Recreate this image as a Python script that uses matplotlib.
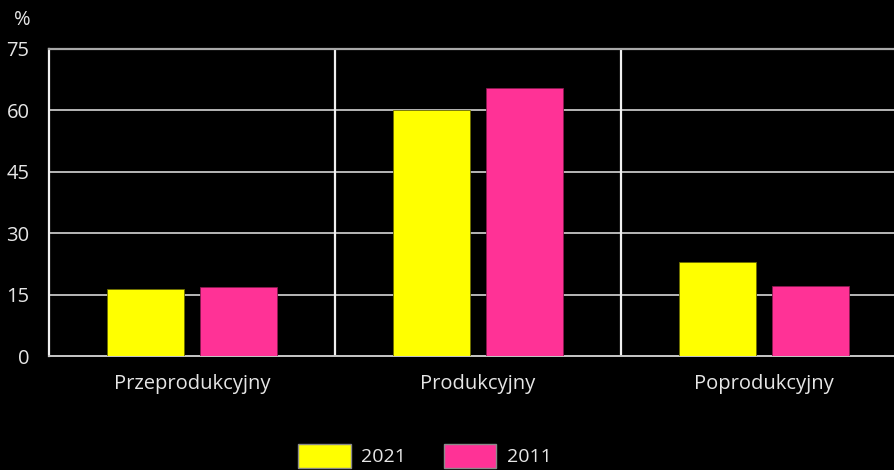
import numpy as np
import matplotlib
matplotlib.use("Agg")
import matplotlib.pyplot as plt

# --- data ---
categories = ["Przeprodukcyjny", "Produkcyjny", "Poprodukcyjny"]
values_2021 = [16.4, 60.1, 23.0]
values_2011 = [16.9, 65.5, 17.1]
series_labels = ["2021", "2011"]
y_ticks = [0, 15, 30, 45, 60, 75]

plt.rcParams['font.family'] = ['Open Sans', 'DejaVu Sans']

fig = plt.figure(figsize=(8.94, 4.70), dpi=100, facecolor='black')
ax = fig.add_axes([49 / 894, 114 / 470, 858 / 894, 307 / 470])
ax.set_facecolor('black')

x = np.arange(len(categories))
w = 0.269
off = 0.162
b1 = ax.bar(x - off, values_2021, w, color='#FFFF00', edgecolor='#6b6b00', linewidth=0.6,
            label=series_labels[0], zorder=3)
b2 = ax.bar(x + off, values_2011, w, color='#FF3296', edgecolor='#8a1a50', linewidth=0.6,
            label=series_labels[1], zorder=3)

ax.set_xlim(-0.5, len(categories) - 0.5)
ax.set_ylim(0, 75)
ax.set_yticks(y_ticks)
ax.set_yticklabels([str(t) for t in y_ticks])
ax.set_xticks(x)
ax.set_xticklabels(categories)

# grid and dividers
for t in y_ticks[1:-1]:
    ax.axhline(t, color='#e8e8e8', linewidth=1.1, zorder=1)
for d in x[:-1] + 0.5:
    ax.axvline(d, color='#f0f0f0', linewidth=1.6, zorder=1)

ax.spines['right'].set_visible(False)
ax.spines['top'].set_color('#a8a8a8')
ax.spines['top'].set_linewidth(1.6)
ax.spines['left'].set_color('#f0f0f0')
ax.spines['left'].set_linewidth(1.6)
ax.spines['bottom'].set_color('#c8c8c8')
ax.spines['bottom'].set_linewidth(1.4)

ax.tick_params(axis='y', length=0, pad=14, labelsize=14.5, labelcolor='#e6e6e6')
ax.tick_params(axis='x', length=0, pad=13, labelsize=14.5, labelcolor='#e6e6e6')

fig.text(22 / 894, 1 - 20 / 470, "%", color='#e6e6e6', fontsize=14.5, ha='center', va='center')

leg = fig.legend(handles=[b1, b2], labels=series_labels, loc='upper left',
                 bbox_to_anchor=(298 / 894, 1 - 444 / 470), ncol=2, frameon=False,
                 borderpad=0, borderaxespad=0, handlelength=2.7, handleheight=1.5,
                 handletextpad=0.55, columnspacing=1.95, fontsize=14, labelcolor='#e6e6e6')
for h in leg.legend_handles:
    h.set_edgecolor('#8a8a8a')
    h.set_linewidth(1.0)

fig.savefig("out.png", dpi=100, facecolor='black')
